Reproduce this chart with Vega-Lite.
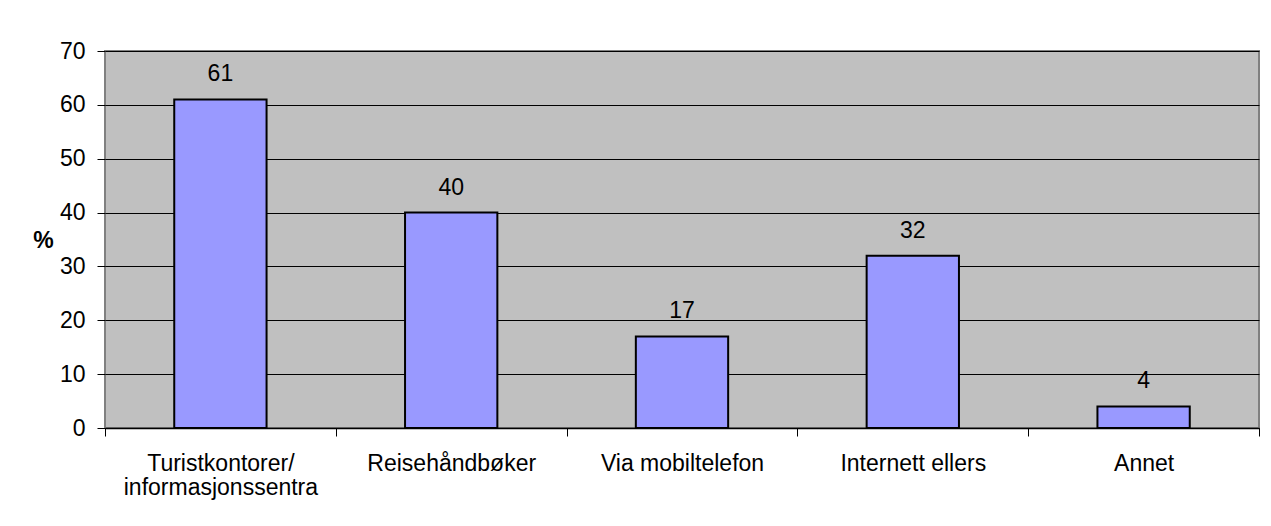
{
  "$schema": "https://vega.github.io/schema/vega-lite/v6.json",
  "width": 1154,
  "height": 377,
  "autosize": {"type": "none"},
  "padding": {"left": 105, "top": 51, "right": 12, "bottom": 98},
  "background": "white",
  "config": {
    "font": "Liberation Sans",
    "view": {"fill": "#C0C0C0", "stroke": "#808080", "strokeWidth": 2}
  },
  "data": {
    "values": [
      {"kilde": "Turistkontorer/informasjonssentra", "prosent": 61},
      {"kilde": "Reisehåndbøker", "prosent": 40},
      {"kilde": "Via mobiltelefon", "prosent": 17},
      {"kilde": "Internett ellers", "prosent": 32},
      {"kilde": "Annet", "prosent": 4}
    ]
  },
  "encoding": {
    "x": {
      "field": "kilde",
      "type": "nominal",
      "sort": null,
      "scale": {"paddingInner": 0, "paddingOuter": 0},
      "axis": {
        "title": null,
        "labelAngle": 0,
        "labelFontSize": 23,
        "labelColor": "black",
        "labelPadding": 16,
        "labelLineHeight": 24,
        "labelBaseline": "top",
        "labelExpr": "indexof(datum.label,'/') > 0 ? [slice(datum.label,0,indexof(datum.label,'/')+1), slice(datum.label,indexof(datum.label,'/')+1)] : datum.label",
        "tickBand": "extent",
        "tickSize": 8,
        "tickColor": "black",
        "domainColor": "black",
        "domainWidth": 1.5,
        "labelLimit": 300
      }
    },
    "y": {
      "field": "prosent",
      "type": "quantitative",
      "scale": {"domain": [0, 70]},
      "axis": {
        "values": [0, 10, 20, 30, 40, 50, 60, 70],
        "title": "%",
        "titleAngle": 0,
        "titleFontSize": 23,
        "titleFontWeight": "bold",
        "titleColor": "black",
        "titleAlign": "center",
        "titleBaseline": "middle",
        "titleX": -62,
        "titleY": 189,
        "labelFontSize": 23,
        "labelColor": "black",
        "labelPadding": 12,
        "tickSize": 8,
        "tickColor": "black",
        "domain": false,
        "grid": true,
        "gridColor": "black",
        "gridWidth": 1,
        "gridOpacity": 1
      }
    }
  },
  "layer": [
    {
      "mark": {"type": "bar", "width": {"band": 0.4}, "fill": "#9999FF", "stroke": "black", "strokeWidth": 2}
    },
    {
      "mark": {"type": "text", "baseline": "alphabetic", "dy": -18, "fontSize": 23, "color": "black"},
      "encoding": {"text": {"field": "prosent", "type": "quantitative"}}
    }
  ]
}
